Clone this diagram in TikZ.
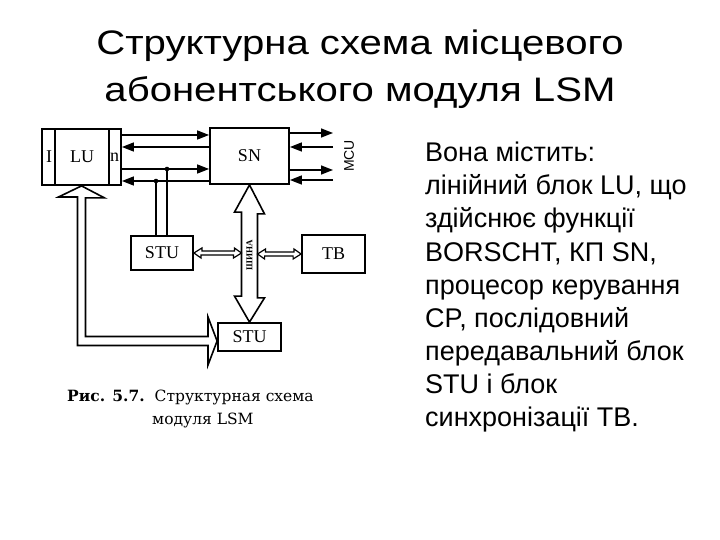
\documentclass[tikz,border=0pt]{standalone}
\usepackage{graphicx}
\usepackage{fontspec}
\setmainfont{Liberation Serif}
\newfontfamily\arial{Liberation Sans}
\newfontfamily\capfont{DejaVu Serif}
\usetikzlibrary{arrows.meta,calc}
\begin{document}
\begin{tikzpicture}[x=1pt,y=-1pt,
  blk/.style={draw,line width=1.8pt,inner sep=0pt,fill=white},
  lbl/.style={inner sep=0pt,font=\fontsize{18}{18}\selectfont},
  sig/.style={line width=1.4pt},
  tipr/.style={-{Triangle[length=12pt,width=9pt]}},
  hollow/.style={draw,line width=1.6pt,fill=white,line join=miter},
  hollowthin/.style={draw,line width=1.2pt,fill=white},
  titletxt/.style={inner sep=0pt,anchor=base,font=\arial\fontsize{34}{34}\selectfont},
  bodytxt/.style={inner sep=0pt,anchor=base west,font=\arial\fontsize{27}{27}\selectfont},
  captxt/.style={inner sep=0pt,anchor=base west,font=\capfont\fontsize{15.5}{15.5}\selectfont}]
\useasboundingbox (0,0) rectangle (720,540);
% title
\node[titletxt] (t1) at (360,55) {\scalebox{1.18}[1]{Структурна схема місцевого}};
\node[titletxt] (t2) at (360,102) {\scalebox{1.18}[1]{абонентського модуля LSM}};
% right text
\node[bodytxt] (b1) at (425,162) {Вона містить:};
\node[bodytxt] (b2) at (425,195) {лінійний блок LU, що};
\node[bodytxt] (b3) at (425,228) {здійснює функції};
\node[bodytxt] (b4) at (425,261) {BORSCHT, КП SN,};
\node[bodytxt] (b5) at (425,294) {процесор керування};
\node[bodytxt] (b6) at (425,327) {CP, послідовний};
\node[bodytxt] (b7) at (425,360) {передавальний блок};
\node[bodytxt] (b8) at (425,393) {STU і блок};
\node[bodytxt] (b9) at (425,426) {синхронізації TB.};
% blocks
\node[blk,minimum width=79pt,minimum height=56pt] (LU) at (81.5,157) {};
\draw[line width=1.8pt] ($(LU.north west)+(14,0)$) -- ($(LU.south west)+(14,0)$);
\draw[line width=1.8pt] ($(LU.north east)+(-13,0)$) -- ($(LU.south east)+(-13,0)$);
\node[lbl] (LUi) at (49,157) {I};
\node[lbl] (LUt) at (82,157) {LU};
\node[lbl] (LUn) at (114.5,157) {n};
\node[blk,lbl,minimum width=79pt,minimum height=56pt] (SN) at (249.5,156) {SN};
\node[blk,lbl,minimum width=62pt,minimum height=34pt] (STU1) at (162,253) {STU};
\node[blk,lbl,minimum width=63pt,minimum height=38pt] (TB) at (333.5,254) {TB};
\node[blk,lbl,minimum width=63pt,minimum height=28pt] (STU2) at (249.5,337) {STU};
% level coordinates
\coordinate (y1) at (0,135);
\coordinate (y2) at (0,147);
\coordinate (y3) at (0,169);
\coordinate (y4) at (0,181);
\coordinate (r1) at (0,133);
\coordinate (r2) at (0,147);
\coordinate (r3) at (0,170);
\coordinate (r4) at (0,180);
\coordinate (mc) at (333,0);
% LU <-> SN
\draw[sig,tipr] (LU.east |- y1) -- (SN.west |- y1);
\draw[sig,tipr] (SN.west |- y2) -- (LU.east |- y2);
\draw[sig,tipr] (LU.east |- y3) -- (SN.west |- y3);
\draw[sig,tipr] (SN.west |- y4) -- (LU.east |- y4);
% SN <-> MCU
\draw[sig,tipr] (SN.east |- r1) -- (mc |- r1);
\draw[sig,tipr] (mc |- r2) -- (SN.east |- r2);
\draw[sig,tipr] (SN.east |- r3) -- (mc |- r3);
\draw[sig,tipr] (mc |- r4) -- (SN.east |- r4);
\node[rotate=90,inner sep=0pt,font=\arial\fontsize{14}{14}\selectfont] (MCU) at (349,156) {MCU};
% taps to STU
\coordinate (d1) at (167,169);
\coordinate (d2) at (156,181);
\fill (d1) circle (2.3pt);
\fill (d2) circle (2.3pt);
\draw[sig] (d1) -- (d1 |- STU1.north);
\draw[sig] (d2) -- (d2 |- STU1.north);
% bus (big vertical double arrow)
\draw[hollow] (SN.south) -- ++(15,29) -- ++(-7,0) -- ++(0,84) -- ++(7,0) -- (STU2.north)
  -- ++(-15,-26) -- ++(7,0) -- ++(0,-84) -- ++(-7,0) -- cycle;
\node[rotate=90,inner sep=0pt,font=\fontsize{9}{9}\selectfont\bfseries] (bus) at (249.5,255) {ШИНА};
\coordinate (busL) at (241.5,253);
\coordinate (busR) at (257.5,254);
% small double arrows
\draw[hollowthin] (STU1.east) -- ++(8,-5) -- ++(0,3) -- ++(32.5,0) -- ++(0,-3) -- (busL)
  -- ++(-8,5) -- ++(0,-3) -- ++(-32.5,0) -- ++(0,3) -- cycle;
\draw[hollowthin] (busR) -- ++(8,-5) -- ++(0,3) -- ++(28.5,0) -- ++(0,-3) -- (TB.west)
  -- ++(-8,5) -- ++(0,-3) -- ++(-28.5,0) -- ++(0,3) -- cycle;
% L-shaped arrow LU <- STU
\coordinate (Ltip) at ($(STU2.west)+(0,4)$);
\draw[hollow] (LU.south) -- ++(23,12) -- ++(-19,0) -- (85.5,336.5) -- (208,336.5) -- (208,317)
  -- (Ltip) -- (208,365) -- (208,345.5) -- (77.5,345.5) -- (77.5,197) -- (58.5,197) -- cycle;
% caption
\node[captxt] (c1) at (67,401) {\textbf{Рис. 5.7.}\hspace{10pt}Структурная схема};
\node[captxt] (c2) at (152,424) {модуля LSM};
\end{tikzpicture}
\end{document}
